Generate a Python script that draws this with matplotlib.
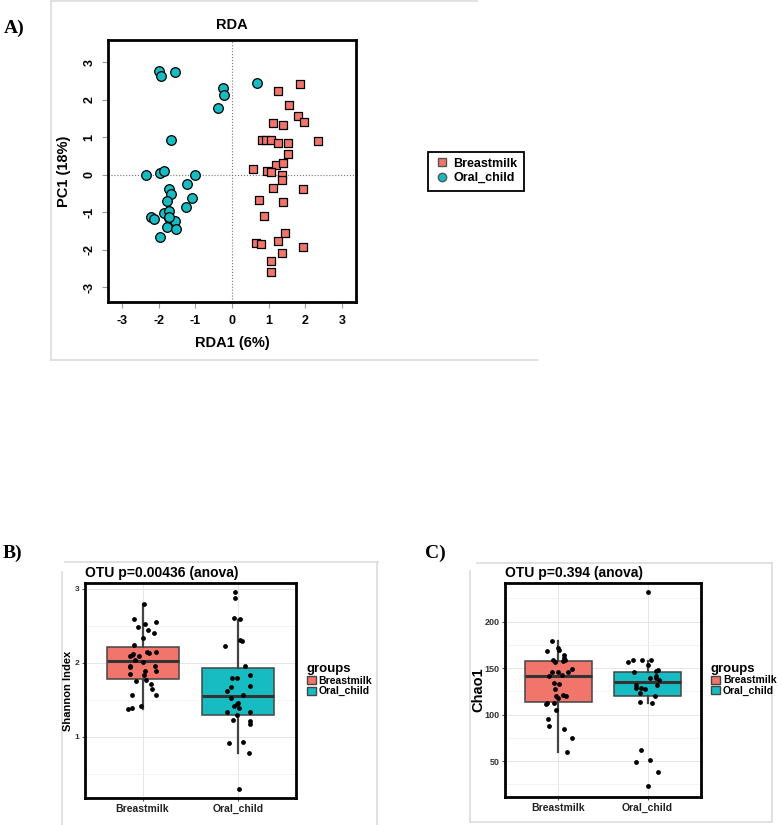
import matplotlib
matplotlib.use("Agg")
import matplotlib.pyplot as plt
from matplotlib.lines import Line2D
from matplotlib.patches import Patch
import numpy as np

plt.rcParams['font.family'] = ['Liberation Sans', 'DejaVu Sans']
plt.rcParams['axes.unicode_minus'] = False

RED = '#F2756B'
CYAN = '#17BCC2'
groups = ['Breastmilk', 'Oral_child']

# ---- panel A: RDA ordination
bm_rda1 = [1.85, 1.26, 1.55, 1.81, 1.97, 1.13, 1.40, 2.34, 0.82, 0.92, 1.07, 1.26,
           1.54, 1.54, 0.58, 1.19, 1.38, 0.96, 1.07, 1.37, 1.37, 1.12, 1.93, 0.73,
           1.40, 0.87, 1.44, 0.65, 0.80, 1.25, 1.93, 1.37, 1.05, 1.05]
bm_pc1 = [2.43, 2.24, 1.86, 1.58, 1.42, 1.38, 1.34, 0.91, 0.93, 0.93, 0.93, 0.85,
          0.85, 0.55, 0.17, 0.27, 0.31, 0.11, 0.09, 0.00, -0.13, -0.36, -0.38, -0.67,
          -0.73, -1.10, -1.56, -1.81, -1.84, -1.75, -1.91, -2.07, -2.30, -2.59]
oc_rda1 = [-2.00, -1.93, -1.55, -0.25, -0.23, -0.39, 0.67, -1.65, -2.34, -1.95,
           -1.85, -1.00, -1.24, -1.72, -1.65, -1.09, -1.77, -1.25, -1.86, -1.71,
           -2.21, -2.12, -1.72, -1.55, -1.78, -1.54, -1.95, -1.73]
oc_pc1 = [2.78, 2.63, 2.74, 2.31, 2.13, 1.78, 2.45, 0.92, 0.00, 0.04, 0.10, 0.00,
          -0.25, -0.37, -0.52, -0.61, -0.70, -0.85, -1.02, -0.97, -1.12, -1.18,
          -1.16, -1.23, -1.38, -1.43, -1.65, -1.11]
rda_ticks = [-3, -2, -1, 0, 1, 2, 3]

# ---- panel B: Shannon index
sh_stats = {'Breastmilk': (1.37, 1.78, 2.03, 2.22, 2.80),
            'Oral_child': (0.78, 1.30, 1.55, 1.93, 2.58)}   # whislo, q1, med, q3, whishi
sh_bm_x = [1.02, 0.91, 0.95, 1.03, 1.06, 1.14, 1.12, 1.00, 0.91, 0.89, 0.87, 0.90,
           0.96, 1.05, 1.07, 1.14, 0.92, 1.00, 0.87, 0.87, 1.13, 1.03, 1.14, 0.87,
           1.01, 0.93, 1.04, 1.09, 1.10, 1.14, 0.89, 0.98, 0.89, 0.85]
sh_bm_y = [2.80, 2.59, 2.48, 2.52, 2.45, 2.55, 2.41, 2.34, 2.24, 2.10, 2.09, 2.12,
           2.09, 2.15, 2.13, 2.14, 2.04, 2.01, 1.96, 1.94, 1.96, 1.89, 1.89, 1.85,
           1.83, 1.76, 1.77, 1.71, 1.64, 1.57, 1.56, 1.41, 1.39, 1.37]
sh_oc_x = [1.96, 1.96, 1.95, 2.02, 2.02, 2.04, 1.86, 2.07, 2.12, 1.93, 1.98, 2.12,
           1.92, 1.88, 2.05, 1.92, 2.00, 1.98, 1.95, 2.01, 1.88, 2.12, 1.99, 1.94,
           2.12, 2.12, 1.90, 2.05, 2.11, 2.01]
sh_oc_y = [2.96, 2.88, 2.60, 2.59, 2.31, 2.29, 2.23, 1.96, 1.83, 1.80, 1.80, 1.68,
           1.67, 1.62, 1.56, 1.53, 1.46, 1.44, 1.41, 1.39, 1.34, 1.33, 1.30, 1.22,
           1.21, 1.17, 0.91, 0.93, 0.78, 0.29]

# ---- panel C: Chao1
ch_stats = {'Breastmilk': (60.4, 114.1, 141.7, 157.8, 178.9),
            'Oral_child': (112.7, 120.5, 135.6, 146.0, 158.0)}
ch_bm_x = [0.93, 0.87, 1.00, 1.01, 1.06, 1.06, 0.94, 0.96, 1.05, 1.07, 1.15, 1.11,
           0.93, 0.99, 0.89, 1.04, 0.95, 1.01, 0.96, 1.05, 1.09, 0.97, 0.99, 0.87,
           0.86, 0.95, 0.97, 0.88, 0.89, 1.06, 1.15, 1.10]
ch_bm_y = [179.3, 168.5, 171.4, 169.2, 163.9, 161.3, 158.5, 157.1, 157.8, 158.8,
           149.2, 145.6, 145.6, 146.3, 141.3, 142.4, 134.1, 133.4, 127.7, 121.2,
           119.8, 119.8, 118.0, 112.7, 111.9, 112.3, 105.5, 95.5, 87.6, 84.7, 74.7, 60.0]
ch_oc_x = [2.01, 1.78, 1.84, 1.94, 2.04, 2.00, 2.12, 2.09, 1.85, 2.09, 2.13, 2.03,
           2.10, 1.87, 1.87, 1.93, 1.97, 2.11, 1.91, 2.08, 1.91, 2.05, 1.93, 1.87,
           2.03, 2.12, 2.00]
ch_oc_y = [232.2, 156.7, 158.8, 159.2, 159.2, 153.1, 148.1, 147.0, 145.6, 139.9,
           137.7, 139.2, 142.0, 132.0, 128.8, 128.8, 127.7, 132.0, 123.0, 119.8,
           113.7, 112.3, 62.5, 48.6, 51.8, 38.9, 23.5]

W, H = 782, 825
fig = plt.figure(figsize=(W / 100, H / 100), dpi=100)


def rect(l, t, r, b):
    return [l / W, 1 - b / H, (r - l) / W, (b - t) / H]


def frame_line(xs, ys):
    fig.add_artist(Line2D([x / W for x in xs], [1 - y / H for y in ys],
                          color='#dcdcdc', lw=1.2, zorder=0))


# light gray image borders
frame_line([51, 477], [1, 1]); frame_line([51, 51], [0, 360]); frame_line([51, 538], [360, 360])
frame_line([65, 378], [562, 562]); frame_line([62, 62], [572, 825]); frame_line([377, 377], [562, 825])
frame_line([477, 772], [563, 563]); frame_line([470, 470], [571, 822]); frame_line([470, 772], [822, 822])
frame_line([772, 772], [563, 822])

for lab, x, y in [('A)', 4, 28), ('B)', 3, 553), ('C)', 425, 553)]:
    fig.text(x / W, 1 - y / H, lab, family='Liberation Serif', weight='bold',
             fontsize=14, va='center', ha='left')

# ---------- A
axA = fig.add_axes(rect(108, 40, 356, 302))
axA.axhline(0, color='#777777', ls=':', lw=0.8, zorder=1)
axA.axvline(0, color='#777777', ls=':', lw=0.8, zorder=1)
axA.scatter(bm_rda1, bm_pc1, marker='s', s=30, c=RED, edgecolors='black', linewidths=0.9, zorder=3)
axA.scatter(oc_rda1, oc_pc1, marker='o', s=48, c=CYAN, edgecolors='black', linewidths=0.9, zorder=3)
axA.set_xlim(-3.38, 3.38)
axA.set_ylim(-3.39, 3.6)
axA.set_xticks(rda_ticks)
axA.set_yticks(rda_ticks)
axA.tick_params(length=4, color='#999999', labelsize=9, pad=5)
for t in axA.get_xticklabels() + axA.get_yticklabels():
    t.set_fontweight('bold')
plt.setp(axA.get_yticklabels(), rotation=90, va='center')
for sp in axA.spines.values():
    sp.set_linewidth(2)
axA.set_title('RDA', fontsize=10.5, weight='bold', pad=8)
axA.set_xlabel('RDA1 (6%)', fontsize=10.5, weight='bold', labelpad=7)
axA.set_ylabel('PC1 (18%)', fontsize=10.5, weight='bold', labelpad=9)
hA = [Line2D([], [], marker='s', ls='none', mfc=RED, mec='#555555', ms=5.5),
      Line2D([], [], marker='o', ls='none', mfc=CYAN, mec='#555555', ms=6)]
fig.legend(hA, groups, loc='center', bbox_to_anchor=(476 / W, 1 - 171 / H),
           frameon=True, fancybox=False, edgecolor='black', framealpha=1,
           prop={'weight': 'bold', 'size': 9}, handletextpad=0.3,
           labelspacing=0.2, borderpad=0.5, handlelength=1.2).get_frame().set_linewidth(1.3)


# ---------- B and C
def box_panel(ax, stats, pts, ylim, yticks, minor, title, ylabel, ylab_size, tick_size, ylab_x):
    bx = []
    for g in groups:
        lo, q1, med, q3, hi = stats[g]
        bx.append({'whislo': lo, 'q1': q1, 'med': med, 'q3': q3, 'whishi': hi, 'label': g})
    art = ax.bxp(bx, positions=[1, 2], widths=0.75, patch_artist=True, showcaps=False,
                 showfliers=False,
                 whiskerprops={'color': '#444444', 'lw': 1.6},
                 medianprops={'color': '#333333', 'lw': 2.2},
                 boxprops={'edgecolor': '#444444', 'lw': 1.1})
    for p, c in zip(art['boxes'], [RED, CYAN]):
        p.set_facecolor(c)
        p.set_zorder(2)
    for xs, ys in pts:
        ax.scatter(xs, ys, s=12, c='black', zorder=4, linewidths=0)
    ax.set_xlim(0.4, 2.6)
    ax.set_ylim(*ylim)
    ax.set_yticks(yticks)
    ax.set_yticks(minor, minor=True)
    ax.set_xticks([1, 2])
    ax.set_xticklabels(groups)
    ax.grid(True, which='major', color='#e6e6e6', lw=0.7)
    ax.grid(True, which='minor', axis='y', color='#f0f0f0', lw=0.5)
    ax.set_axisbelow(True)
    ax.tick_params(which='major', length=2.5, color='#555555', pad=1.5)
    ax.tick_params(which='minor', length=0)
    ax.tick_params(axis='x', labelsize=7.5, labelcolor='#222222')
    ax.tick_params(axis='y', labelsize=tick_size, labelcolor='#333333')
    for t in ax.get_xticklabels() + ax.get_yticklabels():
        t.set_fontweight('bold')
    for sp in ax.spines.values():
        sp.set_linewidth(2)
    ax.set_title(title, loc='left', fontsize=10, weight='bold', pad=4)
    ax.set_ylabel(ylabel, fontsize=ylab_size, weight='bold', va='center')
    ax.yaxis.set_label_coords(ylab_x, 0.5)
    hh = [Patch(facecolor=c, edgecolor='#444444', lw=1) for c in [RED, CYAN]]
    leg = ax.legend(hh, groups, loc='center left', bbox_to_anchor=(1.05, 0.55),
                    frameon=False, title='groups', alignment='left',
                    prop={'weight': 'bold', 'size': 7.5},
                    title_fontproperties={'weight': 'bold', 'size': 9.5},
                    handlelength=0.9, handleheight=0.8, handletextpad=0.25,
                    labelspacing=0.05, borderpad=0, borderaxespad=0)
    return leg


axB = fig.add_axes(rect(85, 583, 296, 798))
box_panel(axB, sh_stats, [(sh_bm_x, sh_bm_y), (sh_oc_x, sh_oc_y)], (0.17, 3.08),
          [1, 2, 3], [0.5, 1.5, 2.5], 'OTU p=0.00436 (anova)', 'Shannon Index', 8, 6,
          (68 - 85) / 211)

axC = fig.add_axes(rect(505, 583, 701, 797))
box_panel(axC, ch_stats, [(ch_bm_x, ch_bm_y), (ch_oc_x, ch_oc_y)], (11.5, 241.5),
          [50, 100, 150, 200], [25, 75, 125, 175, 225], 'OTU p=0.394 (anova)', 'Chao1', 10.5, 6.5,
          (478 - 505) / 196)

fig.savefig('out.png', dpi=100)
